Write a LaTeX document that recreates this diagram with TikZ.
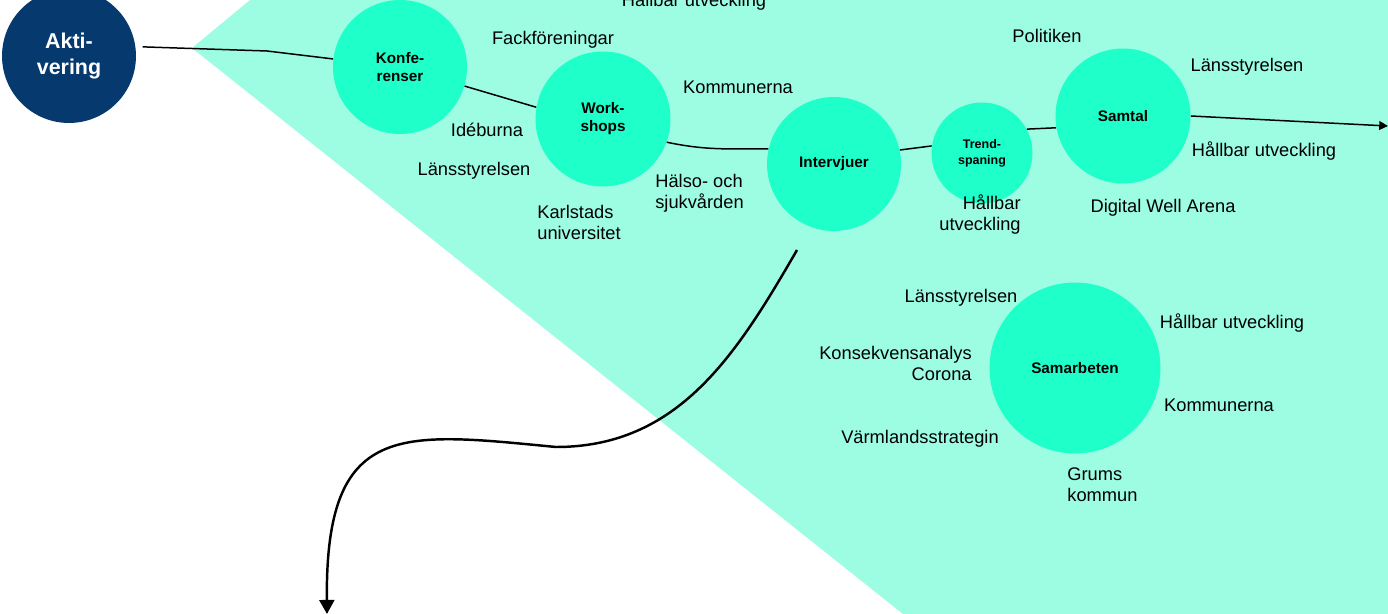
\documentclass[tikz,border=0pt]{standalone}
\usepackage{fontspec}
\setmainfont{Liberation Sans}
\usetikzlibrary{arrows.meta,positioning}
\definecolor{navy}{HTML}{063A6F}
\definecolor{aqua}{HTML}{1EFFCA}
\definecolor{mint}{HTML}{9DFDE3}

\begin{document}
\begin{tikzpicture}[x=0.02cm,y=-0.02cm,
  hub/.style={circle,fill=aqua,inner sep=0pt,align=center,
    font=\fontsize{8.7}{10.2}\selectfont\bfseries},
  lbl/.style={font=\fontsize{10.4}{12}\selectfont,inner sep=0pt,anchor=base},
  flow/.style={line width=0.85pt}]
  \useasboundingbox (0,0) rectangle (1388,614);
  \clip (0,0) rectangle (1388,614);
  \fill[mint] (192,48) -- (250,0) -- (1388,0) -- (1388,614) -- (903,614) -- cycle;

  \node[hub,fill=navy,text=white,minimum size=2.68cm,
    font=\fontsize{12.2}{14.3}\selectfont\bfseries] (akt) at (69,56) {Akti-\\vering};
  \node[hub,minimum size=2.68cm] (konf)   at (400,67)   {Konfe-\\renser};
  \node[hub,minimum size=2.7cm]  (work)   at (603,119)  {Work-\\shops};
  \node[hub,minimum size=2.68cm] (intv)   at (834,164)  {Intervjuer};
  \node[hub,minimum size=2.02cm,
    font=\fontsize{7.1}{9}\selectfont\bfseries] (trend) at (982,153) {Trend-\\spaning};
  \node[hub,minimum size=2.7cm]  (samt)   at (1123,116) {Samtal};
  \node[hub,minimum size=3.42cm] (samarb) at (1075,368) {Samarbeten};

  \node[lbl] (t_top)    at (694,7)    {Hållbar utveckling};
  \node[lbl] (t_fack)   at (553,45)   {Fackföreningar};
  \node[lbl] (t_komm)   at (738,94)   {Kommunerna};
  \node[lbl] (t_ide)    at (487,137)  {Idéburna};
  \node[lbl] (t_lans)   at (474,176)  {Länsstyrelsen};
  \node[lbl,anchor=west,align=left]  (t_kau)   at (537,222.5) {Karlstads\\universitet};
  \node[lbl,anchor=west,align=left]  (t_halso) at (655,193)   {Hälso- och\\sjukvården};
  \node[lbl,anchor=east,align=right] (t_hu_tr) at (1021,214.5) {Hållbar\\utveckling};
  \node[lbl] (t_pol)    at (1047,43)  {Politiken};
  \node[lbl] (t_lans_s) at (1247,72)  {Länsstyrelsen};
  \node[lbl] (t_hu_s)   at (1264,157) {Hållbar utveckling};
  \node[lbl] (t_dwa)    at (1163,213) {Digital Well Arena};
  \node[lbl] (t_lans_k) at (961,303)  {Länsstyrelsen};
  \node[lbl] (t_hu_k)   at (1232,329) {Hållbar utveckling};
  \node[lbl,anchor=east,align=right] (t_kons)  at (972,363.5) {Konsekvensanalys\\Corona};
  \node[lbl] (t_komm_k) at (1219,412) {Kommunerna};
  \node[lbl] (t_varm)   at (920,443)  {Värmlandsstrategin};
  \node[lbl,anchor=west,align=left]  (t_grums) at (1067,485)  {Grums\\kommun};

  \coordinate (kink)    at (267,51);
  \coordinate (far_end) at (1388,126);
  \coordinate (drop)    at (797,250);
  \coordinate (dip)     at (556,447);
  \coordinate (low_end) at (327,614);

  \draw[flow,shorten <=4pt] (akt.8) -- (kink) -- (konf);
  \path[flow]
  (konf)      edge                   (work.170)
  (work.-20)  edge[out=-12,in=180]   (intv.167)
  (intv.12)   edge                   (trend.172)
  (trend.28)  edge                   (samt.190);
  \draw[flow,-{Triangle[length=5pt,width=5pt]}] (samt.east) -- (far_end);
  \draw[line width=1.4pt,-{Triangle[length=8pt,width=8.5pt]}]
    (drop) to[out=-120,in=0] (dip) .. controls (400,432) and (325,420) .. (low_end);
\end{tikzpicture}
\end{document}
